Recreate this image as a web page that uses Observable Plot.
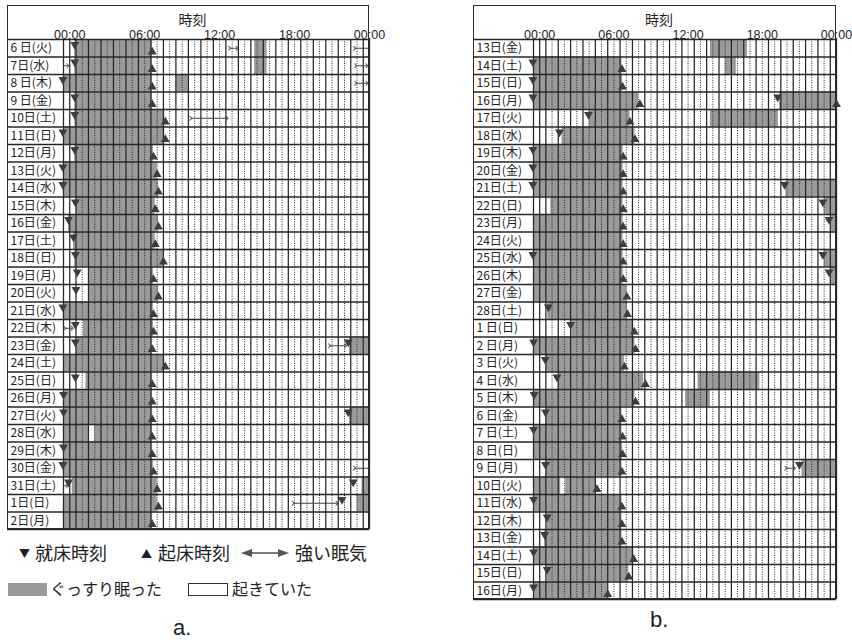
<!DOCTYPE html>
<html><head><meta charset="utf-8">
<script src="https://cdn.jsdelivr.net/npm/d3@7"></script>
<script src="https://cdn.jsdelivr.net/npm/@observablehq/plot@0.6"></script>
<style>
body{margin:0;background:#fff;width:852px;height:640px;position:relative;overflow:hidden;font-family:"Noto Sans CJK JP",sans-serif;color:#222}
.panel{position:absolute;top:5px;outline:1.5px solid #2a2a2a;outline-offset:-1px;line-height:0}
#pa{left:7px}#pb{left:473px}
.t{position:absolute;white-space:nowrap;line-height:1}
.l1{top:543px;font-size:18px}
.tri{font-size:11px;top:548px}
.l2{top:580px;font-size:16px}
.box{position:absolute;top:583px;width:39px;height:13px;box-sizing:border-box}
.cap{font-family:"Liberation Sans",Arial,sans-serif;font-size:22px}
</style></head><body>
<div id="pa" class="panel"></div>
<div id="pb" class="panel"></div>

<span class="t tri" style="left:19px">▼</span><span class="t l1" style="left:35px">就床時刻</span>
<span class="t tri" style="left:141px">▲</span><span class="t l1" style="left:158px">起床時刻</span>
<svg style="position:absolute;left:241px;top:548px" width="48" height="10"><line x1="8" y1="5" x2="40" y2="5" stroke="#333" stroke-width="1.3"/><polygon points="0,5 11,1 11,9" fill="#555"/><polygon points="48,5 37,1 37,9" fill="#555"/></svg>
<span class="t l1" style="left:295px">強い眠気</span>
<div class="box" style="left:8px;background:#9b9b9b"></div><span class="t l2" style="left:50px">ぐっすり眠った</span>
<div class="box" style="left:188px;border:1.3px solid #333;background:#fff;width:40px"></div><span class="t l2" style="left:232px">起きていた</span>
<span class="t cap" style="left:173px;top:617px">a.</span>
<span class="t cap" style="left:650px;top:609px">b.</span>

<script>
// ---------- Panel a ----------
const daysA = ["6 日(火)","7日(水)","8 日(木)","9 日(金)","10日(土)","11日(日)","12日(月)","13日(火)","14日(水)","15日(木)","16日(金)","17日(土)","18日(日)","19日(月)","20日(火)","21日(水)","22日(木)","23日(金)","24日(土)","25日(日)","26日(月)","27日(火)","28日(水)","29日(木)","30日(金)","31日(土)","1日(日)","2日(月)"];
// [row, start hour, end hour]  (-0.5 = 23:30 of the previous day)
const sleepA = [[0,0.4,6.6],[0,14.8,15.8],[1,0.4,6.6],[1,14.8,15.8],[2,-0.5,6.6],[2,8.5,9.5],[3,0.4,6.6],[4,0.4,7.6],[5,-0.5,7.6],[6,0.4,6.7],[7,-0.5,7.0],[8,-0.5,7.1],[9,0.5,6.85],[10,-0.1,7.1],[11,0.3,6.85],[12,0.4,7.5],[13,1.5,6.7],[14,1.5,7.1],[15,-0.5,6.7],[16,1.1,6.7],[17,0.5,6.6],[17,22.4,24],[18,-0.5,7.6],[19,1.3,6.6],[20,-0.5,6.6],[21,-0.5,6.6],[21,22.4,24],[22,-0.5,1.5],[22,2.0,6.6],[23,-0.5,6.6],[24,-0.5,6.7],[25,0.2,7.0],[25,23.4,24],[26,-0.5,7.0],[26,23.0,24],[27,-0.5,6.6]];
const bedA = [[0,0.4],[1,0.4],[2,-0.55],[3,0.4],[4,0.4],[5,-0.55],[6,0.4],[7,-0.55],[8,-0.55],[9,0.45],[10,-0.1],[11,0.3],[12,0.45],[13,0.6],[14,0.5],[15,-0.55],[16,0.45],[17,0.45],[17,22.3],[19,0.45],[20,-0.5],[21,-0.5],[21,22.3],[23,-0.5],[24,-0.55],[25,-0.1],[25,22.7],[26,21.8]];
const wakeA = [[0,6.6],[1,6.6],[2,6.6],[3,6.6],[4,7.65],[5,7.65],[6,6.7],[7,7.0],[8,7.1],[9,6.85],[10,7.1],[11,6.85],[12,7.5],[13,6.7],[14,7.1],[15,6.7],[16,6.7],[17,6.6],[18,7.65],[19,6.6],[20,6.6],[21,6.6],[22,6.6],[23,6.6],[24,6.7],[25,7.0],[26,7.1],[27,6.6]];
const drowsyBothA = [[0,12.8,13.4],[1,22.9,23.8],[2,22.9,23.8],[4,9.7,12.6],[16,-0.4,0.2],[17,20.8,22.1],[26,17.9,21.4]];
const drowsyLeftA = [[0,22.8,24],[24,22.8,24]];
const drowsyRightA = [[1,-0.5,-0.15],[25,-0.5,-0.2]];

// ---------- Panel b ----------
const daysB = ["13日(金)","14日(土)","15日(日)","16日(月)","17日(火)","18日(水)","19日(木)","20日(金)","21日(土)","22日(日)","23日(月)","24日(火)","25日(水)","26日(木)","27日(金)","28日(土)","1 日(日)","2 日(月)","3 日(火)","4 日(水)","5 日(木)","6 日(金)","7 日(土)","8 日(日)","9 日(月)","10日(火)","11日(水)","12日(木)","13日(金)","14日(土)","15日(日)","16日(月)"];
const sleepB = [[0,13.8,16.8],[1,-0.5,6.65],[1,15.0,15.9],[2,-0.5,6.7],[3,-0.5,8.0],[3,19.4,24],[4,4.0,7.3],[4,13.8,19.3],[5,1.8,7.7],[6,-0.5,6.75],[7,-0.5,6.75],[8,-0.5,6.75],[8,19.9,24],[9,0.9,6.75],[9,23.0,24],[10,-0.5,6.75],[10,23.6,24],[11,-0.5,6.75],[12,-0.5,6.75],[12,23.0,24],[13,-0.5,6.75],[13,23.6,24],[14,-0.5,7.05],[15,0.65,7.1],[16,2.6,7.6],[17,-0.5,7.7],[18,0.55,6.85],[19,1.5,8.4],[19,12.8,17.8],[20,-0.5,7.7],[20,11.8,13.8],[21,0.5,6.65],[22,-0.5,6.65],[23,-0.5,6.7],[24,0.5,6.65],[24,21.2,24],[25,-0.5,1.7],[25,2.1,4.6],[26,-0.5,6.65],[27,0.6,6.65],[28,0.4,6.65],[29,-0.5,7.6],[30,0.6,7.2],[31,-0.5,5.5]];
const bedB = [[1,-0.55],[2,-0.55],[3,-0.55],[3,19.25],[4,3.95],[5,1.6],[6,-0.55],[7,-0.55],[8,-0.55],[8,19.8],[9,22.9],[10,23.4],[12,-0.55],[12,22.9],[13,23.4],[15,0.7],[16,2.5],[17,-0.5],[18,0.45],[19,1.4],[20,-0.45],[21,0.47],[22,-0.5],[24,0.47],[24,21.0],[26,-0.5],[27,0.6],[28,0.4],[29,-0.5],[30,0.6],[31,-0.5]];
const wakeB = [[1,6.65],[2,6.7],[3,8.1],[3,24],[4,7.3],[5,7.7],[6,6.75],[7,6.75],[8,6.75],[9,6.75],[10,6.75],[11,6.75],[12,6.75],[13,6.75],[14,7.05],[15,7.1],[16,7.65],[17,7.75],[18,6.85],[19,8.55],[20,7.75],[21,6.65],[22,6.7],[23,6.7],[24,6.65],[25,4.63],[26,6.65],[27,6.65],[28,6.65],[29,7.6],[30,7.2],[31,5.5]];
const drowsyBothB = [[24,19.9,20.6]];
const drowsyLeftB = [];
const drowsyRightB = [];

const tickHours = [0,6,12,18,24];
const hourLabel = h => String(h % 24).padStart(2,"0") + ":00";

function sheet(days, sleep, bed, wake, both, leftOnly, rightOnly, width, marginLeft) {
  const n = days.length, rowH = 17.5, marginTop = 34;
  const height = marginTop + n * rowH;
  const all = d3.range(-0.5, 24.001, 0.5);
  const dotted = all.filter(h => Number.isInteger(h) && h > 0 && h < 24);
  const solid = all.filter(h => !dotted.includes(h));
  const gray = "#9b9b9b", ink = "#262626", mark = "#3d3d3d";
  const font = '"Noto Sans CJK JP", sans-serif';
  const mid = d => d[0] + 0.5;
  return Plot.plot({
    width, height, marginLeft, marginTop, marginRight: 0, marginBottom: 0,
    style: {overflow: "visible", background: "transparent", fontFamily: font},
    x: {domain: [-0.5, 24], range: [marginLeft, width]},
    y: {domain: [0, n], range: [marginTop, height], axis: null},
    marks: [
      Plot.rect(sleep, {x1: d => d[1], x2: d => d[2], y1: d => d[0], y2: d => d[0] + 1, fill: gray}),
      Plot.ruleX(dotted, {stroke: ink, strokeWidth: 1, strokeDasharray: "1,1.4"}),
      Plot.ruleX(solid, {stroke: ink, strokeWidth: 1.25}),
      Plot.ruleY(d3.range(n + 1), {stroke: ink, strokeWidth: 1.3, insetLeft: -marginLeft}),
      Plot.text(days, {frameAnchor: "left", y: (d, i) => i + 0.5, text: d => d, textAnchor: "start", dx: -(marginLeft - 3), fontSize: 12, fill: "#222"}),
      Plot.dot(bed, {x: d => d[1], y: mid, symbol: "triangle", rotate: 180, r: 3.3, fill: mark, dy: -3.6}),
      Plot.dot(wake, {x: d => d[1], y: mid, symbol: "triangle", r: 3.3, fill: mark, dy: 3.6}),
      Plot.link(both, {x1: d => d[1], x2: d => d[2], y1: mid, y2: mid, stroke: "#444", strokeWidth: 1, markerStart: "arrow", markerEnd: "arrow"}),
      Plot.link(leftOnly, {x1: d => d[1], x2: d => d[2], y1: mid, y2: mid, stroke: "#444", strokeWidth: 1, markerStart: "arrow"}),
      Plot.link(rightOnly, {x1: d => d[1], x2: d => d[2], y1: mid, y2: mid, stroke: "#444", strokeWidth: 1, markerEnd: "arrow"}),
      Plot.axisX({anchor: "top", ticks: tickHours, tickFormat: hourLabel, tickSize: 0, tickPadding: 1, label: null, fontSize: 12.5, fontFamily: '"Liberation Sans", Arial, sans-serif', fill: "#222"}),
      Plot.text(["時刻"], {frameAnchor: "top", dy: -24, dx: -(marginLeft / 2) + 4, fontSize: 14, fill: "#222"})
    ]
  });
}

document.getElementById("pa").append(sheet(daysA, sleepA, bedA, wakeA, drowsyBothA, drowsyLeftA, drowsyRightA, 362, 56));
document.getElementById("pb").append(sheet(daysB, sleepB, bedB, wakeB, drowsyBothB, drowsyLeftB, drowsyRightB, 363, 60));
</script>
</body></html>
